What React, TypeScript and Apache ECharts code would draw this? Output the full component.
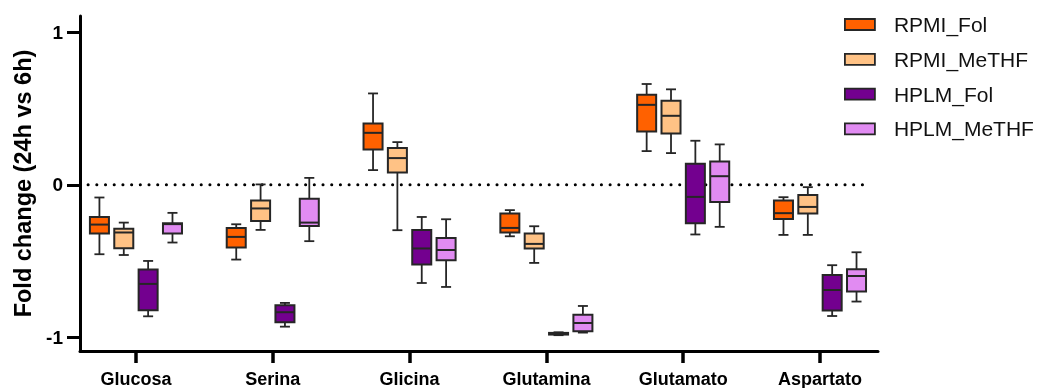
import React, { useEffect, useRef } from "react";
import * as echarts from "echarts";

const categories = ["Glucosa", "Serina", "Glicina", "Glutamina", "Glutamato", "Aspartato"];
const seriesNames = ["RPMI_Fol", "RPMI_MeTHF", "HPLM_Fol", "HPLM_MeTHF"];
const seriesColors = ["#FF6100", "#FFC285", "#73008F", "#E18BF2"];

// each entry: [min, q1, median, q3, max]
const rpmiFol = [
  [-0.456, -0.32, -0.261, -0.211, -0.083],
  [-0.491, -0.412, -0.342, -0.283, -0.259],
  [0.097, 0.233, 0.342, 0.404, 0.601],
  [-0.338, -0.313, -0.283, -0.188, -0.166],
  [0.222, 0.351, 0.526, 0.592, 0.663],
  [-0.329, -0.224, -0.186, -0.103, -0.081],
];
const rpmiMeTHF = [
  [-0.461, -0.416, -0.313, -0.289, -0.248],
  [-0.296, -0.237, -0.155, -0.103, 0.003],
  [-0.298, 0.082, 0.176, 0.243, 0.281],
  [-0.513, -0.418, -0.388, -0.32, -0.272],
  [0.209, 0.338, 0.454, 0.553, 0.628],
  [-0.329, -0.188, -0.145, -0.066, -0.015],
];
const hplmFol = [
  [-0.864, -0.824, -0.651, -0.557, -0.5],
  [-0.932, -0.903, -0.837, -0.791, -0.776],
  [-0.645, -0.524, -0.418, -0.296, -0.211],
  [-0.988, -0.984, -0.978, -0.973, -0.969],
  [-0.326, -0.252, -0.079, 0.138, 0.29],
  [-0.862, -0.826, -0.691, -0.592, -0.528],
];
const hplmMeTHF = [
  [-0.379, -0.32, -0.258, -0.252, -0.184],
  [-0.37, -0.27, -0.248, -0.092, 0.046],
  [-0.671, -0.495, -0.428, -0.349, -0.226],
  [-0.971, -0.963, -0.908, -0.853, -0.796],
  [-0.276, -0.112, 0.057, 0.154, 0.266],
  [-0.767, -0.701, -0.599, -0.555, -0.443],
];
const allSeries = [rpmiFol, rpmiMeTHF, hplmFol, hplmMeTHF];

const yTicks = [-1, 0, 1];
const xTicks = [0, 1, 2, 3, 4, 5];

const offsets = [-0.267, -0.089, 0.089, 0.267];
const BOX_W = 0.139;
const STROKE = "#262626";
const FONT = 'Arial, "Liberation Sans", Helvetica, sans-serif';

function makeRender(offset: number) {
  return (params: any, api: any) => {
    const cx = api.value(0) + offset;
    const pMin = api.coord([cx, api.value(1)]);
    const pQ1 = api.coord([cx, api.value(2)]);
    const pMed = api.coord([cx, api.value(3)]);
    const pQ3 = api.coord([cx, api.value(4)]);
    const pMax = api.coord([cx, api.value(5)]);
    const bw = api.size([BOX_W, 0])[0];
    const x = pMin[0];
    const cap = 5;
    const lw = 1.8;
    return {
      type: "group",
      children: [
        { type: "line", shape: { x1: x, y1: pMax[1], x2: x, y2: pMin[1] }, style: { stroke: STROKE, lineWidth: lw } },
        { type: "line", shape: { x1: x - cap, y1: pMax[1], x2: x + cap, y2: pMax[1] }, style: { stroke: STROKE, lineWidth: lw } },
        { type: "line", shape: { x1: x - cap, y1: pMin[1], x2: x + cap, y2: pMin[1] }, style: { stroke: STROKE, lineWidth: lw } },
        {
          type: "rect",
          shape: { x: x - bw / 2, y: pQ3[1], width: bw, height: Math.max(pQ1[1] - pQ3[1], 1) },
          style: { fill: api.visual("color"), stroke: STROKE, lineWidth: 2 },
        },
        { type: "line", shape: { x1: x - bw / 2, y1: pMed[1], x2: x + bw / 2, y2: pMed[1] }, style: { stroke: STROKE, lineWidth: 2 } },
      ],
    };
  };
}

export default function App() {
  const ref = useRef<HTMLDivElement>(null);
  useEffect(() => {
    if (!ref.current) return;
    const chart = echarts.init(ref.current, undefined, { renderer: "svg" });
    const boxSeries = allSeries.map((arr, si) => ({
      name: seriesNames[si],
      type: "custom",
      renderItem: makeRender(offsets[si]),
      itemStyle: { color: seriesColors[si], borderColor: STROKE, borderWidth: 1.8 },
      encode: { x: 0, y: [1, 2, 3, 4, 5] },
      clip: false,
      z: 3,
      data: arr.map((v, i) => [i, ...v]),
    }));
    chart.setOption({
      animation: false,
      textStyle: { fontFamily: FONT },
      grid: { left: 80, top: 16, right: 160, bottom: 37, containLabel: false },
      legend: {
        orient: "vertical",
        left: 844,
        top: 14,
        padding: 0,
        itemWidth: 30,
        itemHeight: 11,
        itemGap: 13.8,
        icon: "rect",
        selectedMode: false,
        textStyle: { fontSize: 21, color: "#111", fontFamily: FONT, padding: [0, 0, 0, 14], lineHeight: 21 },
        data: seriesNames.map((n, i) => ({
          name: n,
          itemStyle: { color: seriesColors[i], borderColor: STROKE, borderWidth: 1.8 },
        })),
      },
      xAxis: {
        type: "value",
        min: -0.409,
        max: 5.424,
        splitLine: { show: false },
        axisLine: { show: true, onZero: false, lineStyle: { color: "#000", width: 3 } },
        axisTick: { show: true, customValues: xTicks, length: 12, lineStyle: { color: "#000", width: 3.5 } },
        axisLabel: {
          customValues: xTicks,
          formatter: (v: number) => categories[Math.round(v)] ?? "",
          fontSize: 18,
          fontWeight: "bold",
          color: "#000",
          margin: 19,
          fontFamily: FONT,
        },
      },
      yAxis: {
        type: "value",
        min: -1.092,
        max: 1.11,
        splitLine: { show: false },
        name: "Fold change (24h vs 6h)",
        nameLocation: "middle",
        nameGap: 42,
        nameTextStyle: { fontSize: 23.5, fontWeight: "bold", color: "#000", fontFamily: FONT },
        axisLine: { show: true, onZero: false, lineStyle: { color: "#000", width: 3 } },
        axisTick: { show: true, customValues: yTicks, length: 13, lineStyle: { color: "#000", width: 3 } },
        axisLabel: {
          customValues: yTicks,
          fontSize: 19,
          fontWeight: "bold",
          color: "#000",
          margin: 17,
          fontFamily: FONT,
        },
      },
      series: [
        {
          type: "line",
          silent: true,
          symbol: "none",
          z: 1,
          data: [
            [-0.35, 0],
            [5.37, 0],
          ],
          lineStyle: { color: "#000", width: 3, type: [0.1, 8.6], cap: "round" },
        },
        ...boxSeries,
      ],
    });
    return () => chart.dispose();
  }, []);
  return <div ref={ref} style={{ position: "fixed", left: 0, top: 0, width: 1038, height: 388 }} />;
}
